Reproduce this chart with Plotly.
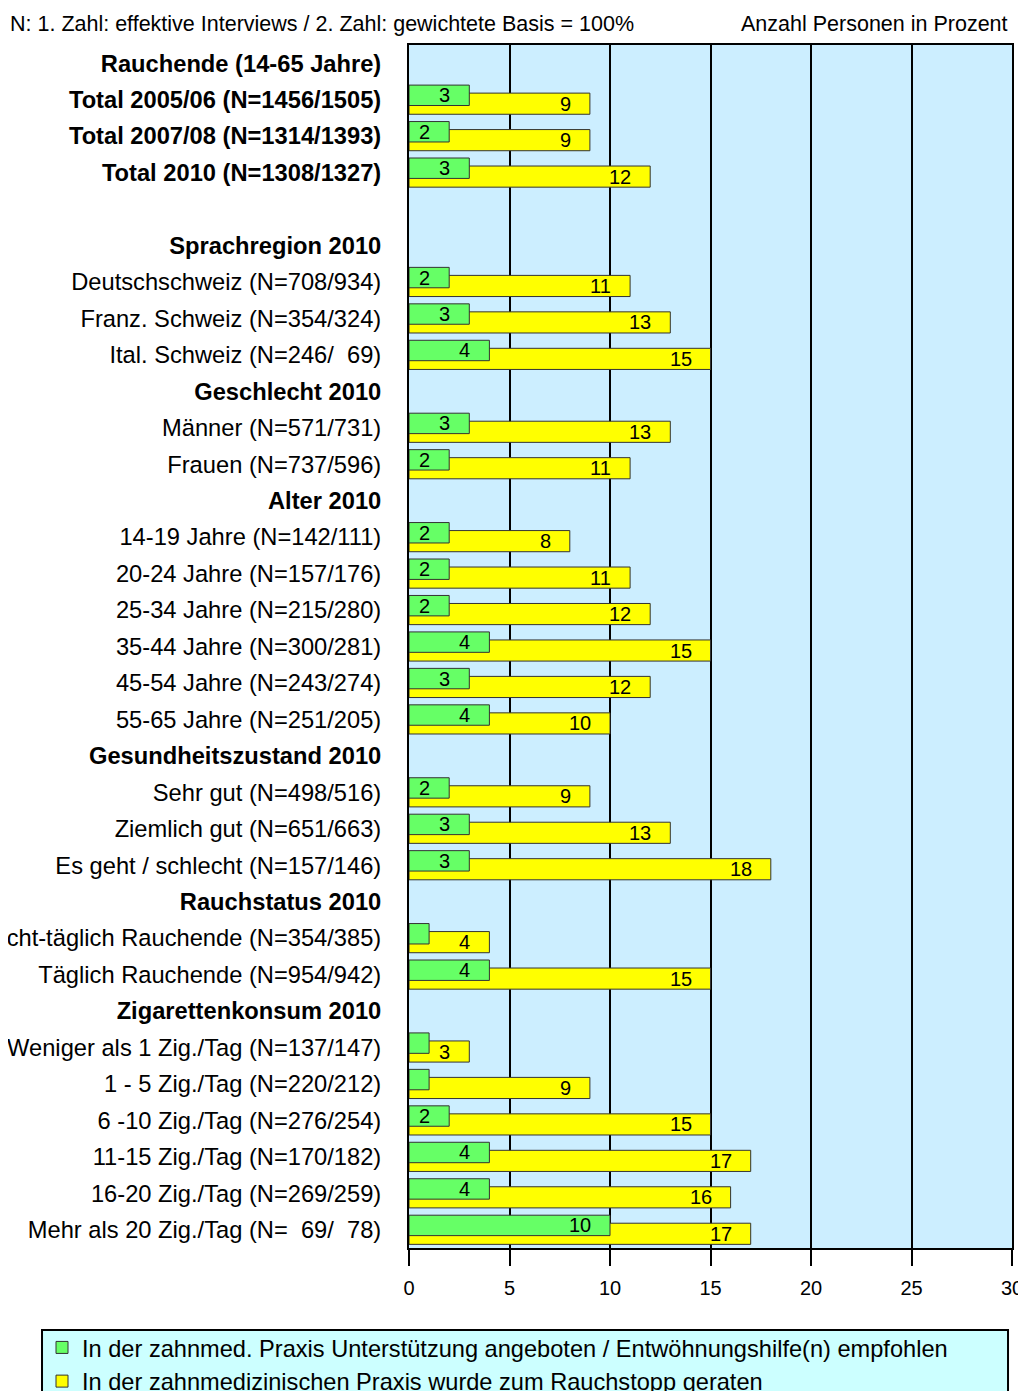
"""Rauchende: Rauchstopp-Beratung in der zahnmedizinischen Praxis (horizontal bars)."""

import plotly.graph_objects as go

# Row labels top to bottom; headers are bold, "" is a spacer row
labels = [
    "Rauchende (14-65 Jahre)",
    "Total 2005/06 (N=1456/1505)",
    "Total 2007/08 (N=1314/1393)",
    "Total 2010 (N=1308/1327)",
    "",
    "Sprachregion 2010",
    "Deutschschweiz (N=708/934)",
    "Franz. Schweiz (N=354/324)",
    "Ital. Schweiz (N=246/\u00a0 69)",
    "Geschlecht 2010",
    "Männer (N=571/731)",
    "Frauen (N=737/596)",
    "Alter 2010",
    "14-19 Jahre (N=142/111)",
    "20-24 Jahre (N=157/176)",
    "25-34 Jahre (N=215/280)",
    "35-44 Jahre (N=300/281)",
    "45-54 Jahre (N=243/274)",
    "55-65 Jahre (N=251/205)",
    "Gesundheitszustand 2010",
    "Sehr gut (N=498/516)",
    "Ziemlich gut (N=651/663)",
    "Es geht / schlecht (N=157/146)",
    "Rauchstatus 2010",
    "Nicht-täglich Rauchende (N=354/385)",
    "Täglich Rauchende (N=954/942)",
    "Zigarettenkonsum 2010",
    "Weniger als 1 Zig./Tag (N=137/147)",
    "1 - 5 Zig./Tag (N=220/212)",
    "6 -10 Zig./Tag (N=276/254)",
    "11-15 Zig./Tag (N=170/182)",
    "16-20 Zig./Tag (N=269/259)",
    "Mehr als 20 Zig./Tag (N=\u00a0 69/\u00a0 78)",
]
headers = {
    "Rauchende (14-65 Jahre)", "Total 2005/06 (N=1456/1505)", "Total 2007/08 (N=1314/1393)",
    "Total 2010 (N=1308/1327)", "Sprachregion 2010", "Geschlecht 2010", "Alter 2010",
    "Gesundheitszustand 2010", "Rauchstatus 2010", "Zigarettenkonsum 2010",
}

# None = no bar in that row
support = [None, 3, 2, 3, None, None, 2, 3, 4, None, 3, 2, None, 2, 2, 2, 4, 3, 4,
           None, 2, 3, 3, None, 1, 4, None, 1, 1, 2, 4, 4, 10]
advice = [None, 9, 9, 12, None, None, 11, 13, 15, None, 13, 11, None, 8, 11, 12, 15, 12, 10,
          None, 9, 13, 18, None, 4, 15, None, 3, 9, 15, 17, 16, 17]

name_support = "In der zahnmed. Praxis Unterstützung angeboten / Entwöhnungshilfe(n) empfohlen"
name_advice = "In der zahnmedizinischen Praxis wurde zum Rauchstopp geraten"

FONT = "Liberation Sans, Arial, sans-serif"
pos = list(range(len(labels)))

# bar slots within a row (y axis reversed, so + is downward)
G_OFF, G_W = -0.40, 0.56
Y_OFF, Y_W = -0.18, 0.58

fig = go.Figure()
fig.add_trace(go.Bar(
    y=pos, x=advice, orientation="h", name=name_advice,
    offset=Y_OFF, width=Y_W,
    marker=dict(color="#FFFF00", line=dict(color="#333333", width=1)),
))
fig.add_trace(go.Bar(
    y=pos, x=support, orientation="h", name=name_support,
    offset=G_OFF, width=G_W,
    marker=dict(color="#66FF66", line=dict(color="#333333", width=1)),
))

# value labels near the bar ends (skipped when the bar is too short)
annotations = []
for series, off, w in ((support, G_OFF, G_W), (advice, Y_OFF, Y_W)):
    for p, v in zip(pos, series):
        if v is None or v < 2:
            continue
        annotations.append(dict(
            x=v, y=p + off + w / 2, xref="x", yref="y", text=str(v),
            showarrow=False, xanchor="right", yanchor="middle", xshift=-17,
            font=dict(family=FONT, size=20, color="black"),
        ))

annotations.append(dict(
    x=-0.665, y=1.0175, xref="paper", yref="paper", xanchor="left", yanchor="middle",
    text="N: 1. Zahl: effektive Interviews / 2. Zahl: gewichtete Basis = 100%",
    showarrow=False, font=dict(family=FONT, size=21.5, color="black"),
))
annotations.append(dict(
    x=0.9967, y=1.0175, xref="paper", yref="paper", xanchor="right", yanchor="middle",
    text="Anzahl Personen in Prozent",
    showarrow=False, font=dict(family=FONT, size=21.5, color="black"),
))

ticktext = [f"<b>{t}</b>" if t in headers else t for t in labels]

# page body has an 8px margin, so the figure is sized/placed to compensate
fig.update_layout(
    width=1018, height=1391,
    margin=dict(l=401, r=14, t=37, b=151, autoexpand=False),
    barmode="overlay",
    plot_bgcolor="#CCEEFF",
    paper_bgcolor="white",
    font=dict(family=FONT, size=22, color="black"),
    annotations=annotations,
    showlegend=True,
    legend=dict(
        x=-0.6086, y=-0.0645, xanchor="left", yanchor="top",
        traceorder="reversed", bgcolor="rgba(0,0,0,0)", borderwidth=0,
        font=dict(family=FONT, size=23.6, color="black"),
        tracegroupgap=0, itemclick=False,
    ),
    shapes=[dict(
        type="rect", xref="paper", yref="paper",
        x0=-0.6086, x1=0.9934, y0=-0.25, y1=-0.0682,
        fillcolor="#CCFFFF", line=dict(color="black", width=2), layer="below",
    )],
)

fig.update_xaxes(
    range=[0, 30], tickvals=[0, 5, 10, 15, 20, 25, 30],
    showgrid=True, gridcolor="black", gridwidth=2,
    showline=True, linecolor="black", linewidth=2, mirror=True,
    ticks="outside", ticklen=16, tickwidth=2, tickcolor="black",
    ticklabelstandoff=5,
    tickfont=dict(family=FONT, size=20), zeroline=False,
)
fig.update_yaxes(
    range=[len(labels) - 0.5, -0.5], tickvals=pos, ticktext=ticktext,
    showgrid=False, zeroline=False,
    showline=True, linecolor="black", linewidth=2, mirror=True,
    ticks="", ticklabelstandoff=21,
    tickfont=dict(family=FONT, size=23.7),
)

fig.write_html("out.html")
